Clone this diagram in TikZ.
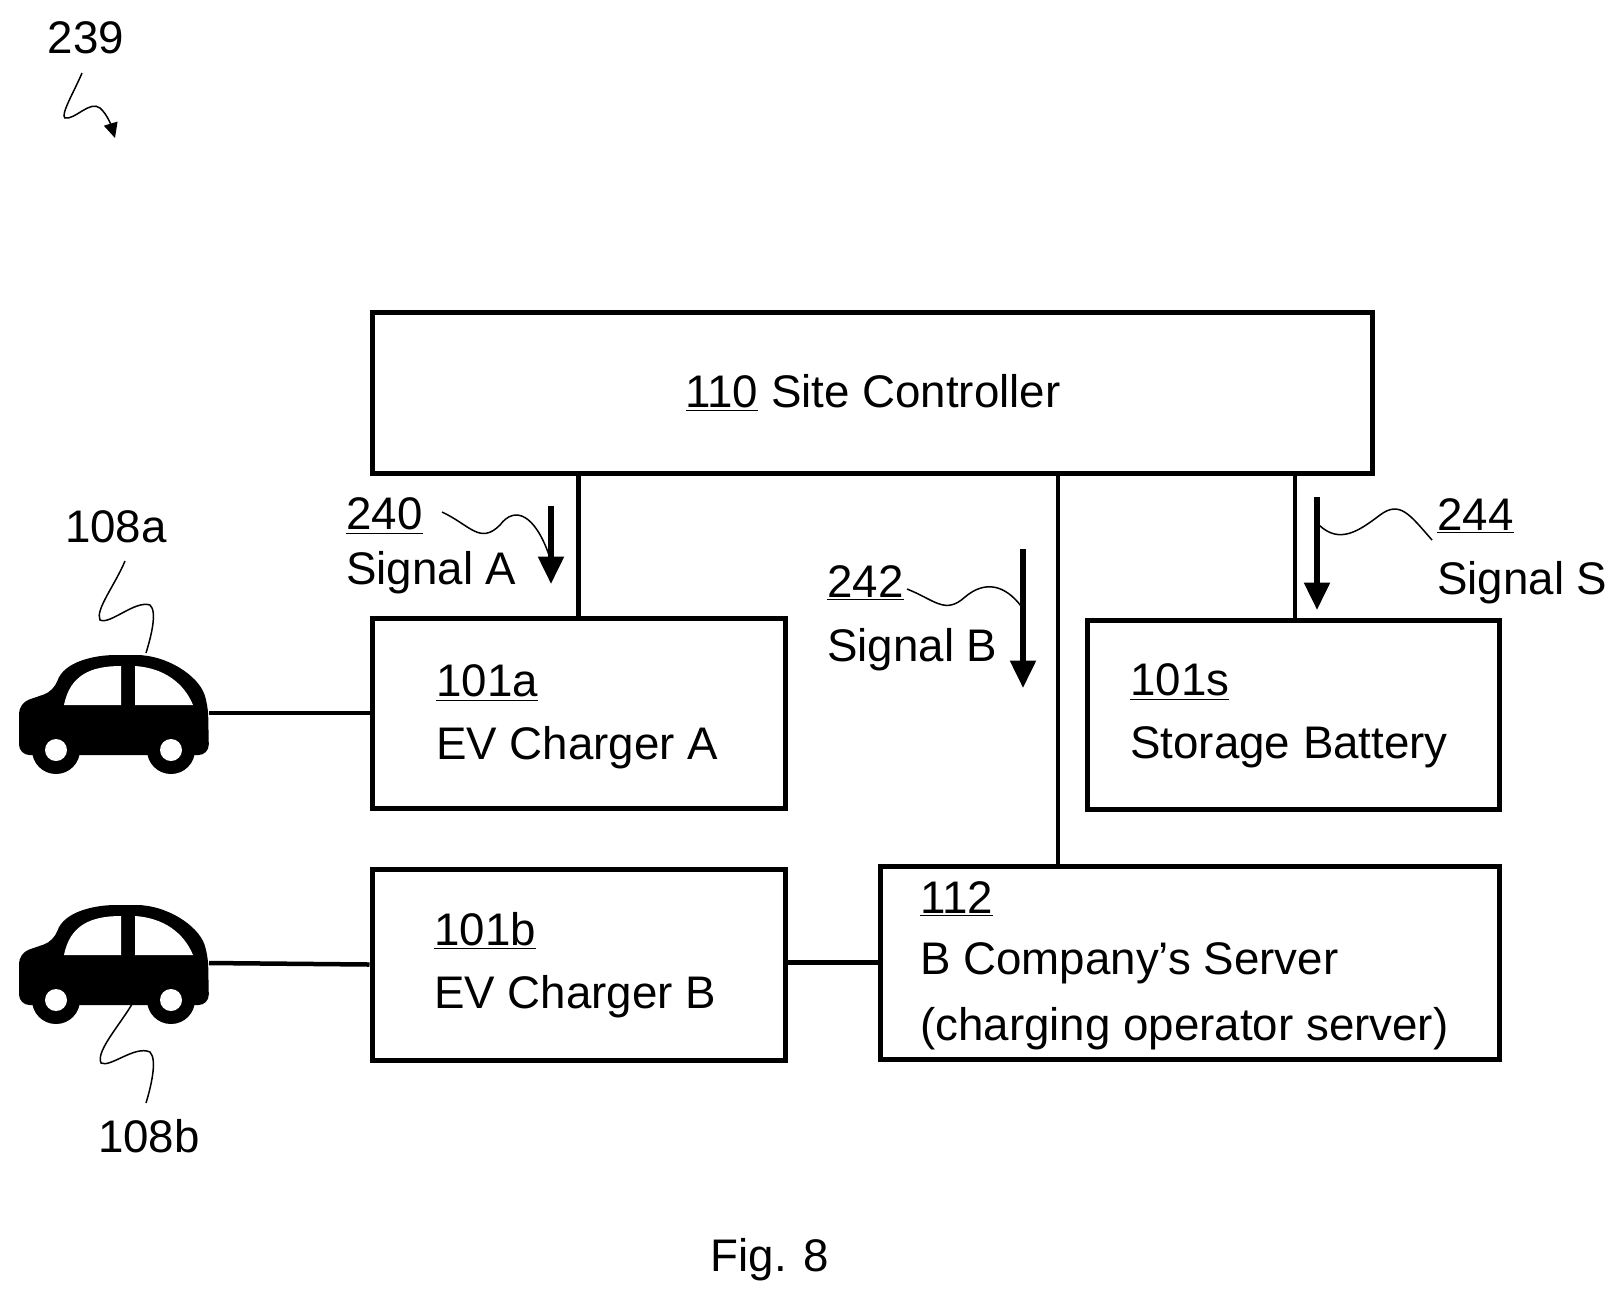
\documentclass[tikz,border=0pt]{standalone}
\usepackage{fontspec}
\setmainfont{Liberation Sans}
\usetikzlibrary{arrows.meta}
\begin{document}
\begin{tikzpicture}[x=0.02cm,y=-0.02cm,
  box/.style={draw,line width=0.1cm,inner sep=0pt},
  conn/.style={line width=0.09cm},
  lead/.style={line width=0.03cm},
  sig/.style={line width=0.11cm,-{Triangle[width=0.5cm,length=0.55cm]}},
  txt/.style={font=\fontsize{26}{30}\selectfont,inner sep=0pt},
  lbl/.style={txt,anchor=west},
  car/.pic={
    \fill[rounded corners=6] (-97,-10) -- (-62,-22) .. controls (-52,-52) and (-20,-58) .. (10,-58) .. controls (50,-58) and (82,-38) .. (92,-8) -- (93,42) -- (-97,42) -- cycle;
    \fill (-60,37) circle (24) (55,37) circle (24);
    \fill[white] (-60,37) circle (11) (55,37) circle (11);
    \fill[white] (-52,-8) .. controls (-46,-38) and (-25,-47) .. (5,-47) -- (5,-8) -- cycle;
    \fill[white] (19,-47) .. controls (48,-45) and (68,-30) .. (77,-8) -- (19,-8) -- cycle;
  }]
\useasboundingbox (0,0) rectangle (1621,1299);
\node[box,minimum width=1000*0.02cm,minimum height=161*0.02cm] (sc) at (872,392.5) {};
\node[txt] (sct) at (873,393) {\underline{110} Site Controller};
\node[box,minimum width=413*0.02cm,minimum height=190*0.02cm] (ca) at (578.5,713) {};
\node[box,minimum width=412*0.02cm,minimum height=189*0.02cm] (sb) at (1293,714.5) {};
\node[box,minimum width=413*0.02cm,minimum height=191*0.02cm] (cb) at (578.5,964.5) {};
\node[box,minimum width=619*0.02cm,minimum height=193*0.02cm] (bs) at (1190,962.5) {};
\node[lbl] (t1) at (436,683) {\underline{101a}};
\node[lbl] (t2) at (436,748) {EV Charger A};
\node[lbl] (t3) at (1130,682) {\underline{101s}};
\node[lbl] (t4) at (1130,747) {Storage Battery};
\node[lbl] (t5) at (434,931) {\underline{101b}};
\node[lbl] (t6) at (434,997) {EV Charger B};
\node[lbl] (t7) at (920,899) {\underline{112}};
\node[lbl] (t8) at (920,963) {B Company’s Server};
\node[lbl] (t9) at (920,1029) {(charging operator server)};
% connectors
\draw[conn] (sc.south -| ca.north) -- (ca.north);
\draw[conn] (1058,473) coordinate (p1) -- (p1 |- bs.north);
\draw[conn] (1295,473) coordinate (p2) -- (p2 |- sb.north);
\draw[conn] (cb.east |- bs.west) -- (bs.west);
% cars
\pic (cara) at (116,713) {car};
\pic (carb) at (116,963) {car};
\coordinate (cae) at (209,713);
\coordinate (cbe) at (209,963);
\draw[conn] (cae) -- (ca.west);
\draw[conn] (cbe) -- (cb.west);
% signals
\coordinate (aA1) at (551,506); \coordinate (aA2) at (551,584);
\draw[sig] (aA1) -- (aA2);
\coordinate (aB1) at (1023,549); \coordinate (aB2) at (1023,688);
\draw[sig] (aB1) -- (aB2);
\coordinate (aS1) at (1317,497); \coordinate (aS2) at (1317,610);
\draw[sig] (aS1) -- (aS2);
\node[lbl] (n240) at (346,516) {\underline{240}};
\node[lbl] (sA) at (346,573) {Signal A};
\node[lbl] (n242) at (827,583) {\underline{242}};
\node[lbl] (sB) at (827,650) {Signal B};
\node[lbl] (n244) at (1437,516) {\underline{244}};
\node[lbl] (sS) at (1437,583) {Signal S};
\node[txt] (n108a) at (116,527) {108a};
\node[txt] (n108b) at (149,1136) {108b};
\node[txt] (n239) at (86,38) {239};
\node[txt] (fig) at (770,1260) {Fig. 8};
% leaders
\draw[lead] (442,512) .. controls (470,525) and (480,545) .. (500,525) .. controls (515,505) and (535,515) .. (549,555);
\draw[lead] (907,589) .. controls (935,600) and (945,615) .. (965,597) .. controls (985,580) and (1005,585) .. (1021,606);
\draw[lead] (1432,540) .. controls (1410,515) and (1400,500) .. (1380,515) .. controls (1360,530) and (1340,545) .. (1319,525);
\draw[lead] (125,561) .. controls (115,585) and (95,610) .. (100,620) .. controls (110,625) and (135,600) .. (150,605) .. controls (158,612) and (150,640) .. (146,653);
\draw[lead] (137,995) .. controls (125,1020) and (95,1050) .. (101,1063) .. controls (110,1068) and (135,1045) .. (150,1052) .. controls (158,1060) and (150,1090) .. (146,1103);
\draw[lead,-{Triangle[width=0.28cm,length=0.3cm]}] (82,73) .. controls (75,90) and (60,115) .. (65,118) .. controls (75,120) and (90,100) .. (100,108) .. controls (108,115) and (112,128) .. (115,138);
\end{tikzpicture}
\end{document}
